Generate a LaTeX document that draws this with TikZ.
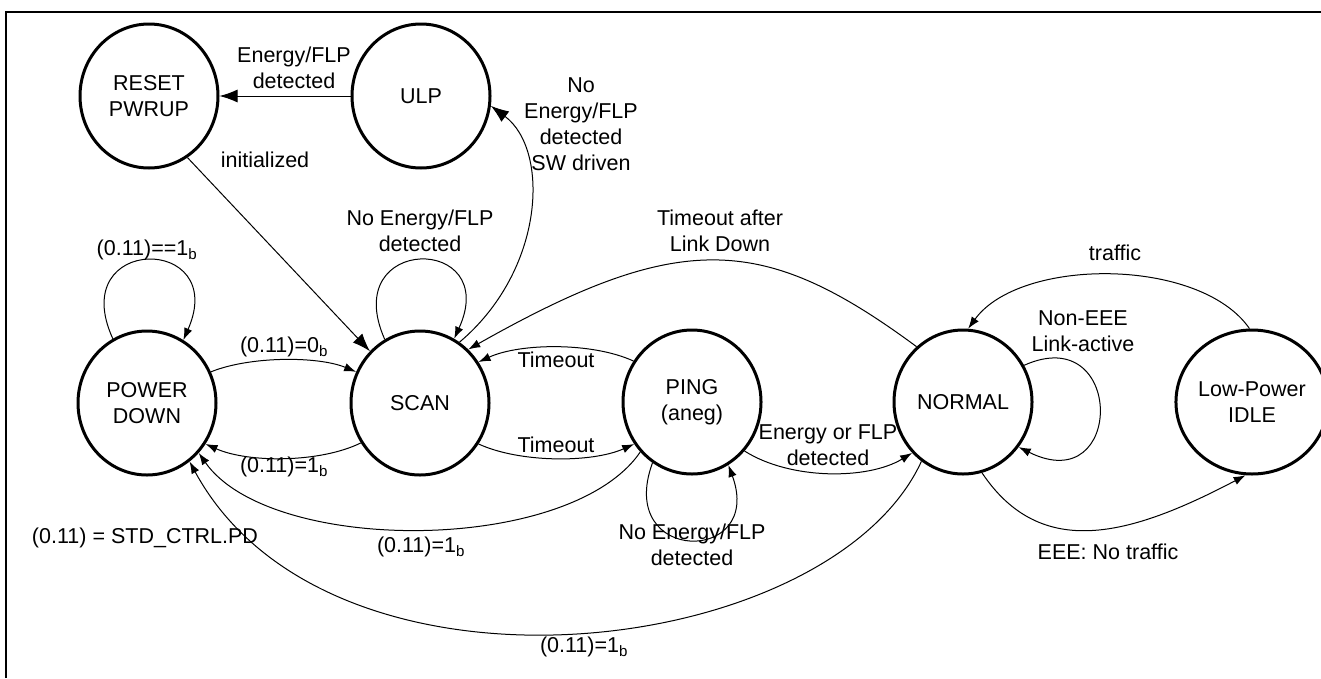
\documentclass[tikz,border=0pt]{standalone}
\usepackage{fontspec}
\setmainfont{Liberation Sans}
\usetikzlibrary{shapes.geometric,arrows.meta}
\newcommand{\diafont}{\fontsize{21.5}{26}\selectfont}
\newcommand{\bsub}{\textsubscript{b}}
\begin{document}
\begin{tikzpicture}[x=1pt,y=-1pt,
  state/.style={ellipse,draw,line width=3pt,minimum width=138pt,minimum height=144pt,inner sep=0pt,align=center,font=\diafont},
  lbl/.style={align=center,font=\diafont,inner sep=0pt},
  conn/.style={line width=1pt,-{Latex[length=12pt,width=8.5pt]}},
  bigconn/.style={line width=1pt,-{Latex[length=18pt,width=13pt]}},
  frame/.style={line width=1.2pt}]
\useasboundingbox (0,0) rectangle (1321,678);
% frame
\coordinate (fa) at (6,678);
\coordinate (fb) at (6,12);
\coordinate (fc) at (1321,12);
\draw[frame] (fa) -- (fb) -- (fc);
% states
\node[state] (RESET) at (149,96) {RESET\\PWRUP};
\node[state] (ULP) at (421,96) {ULP};
\node[state] (PD) at (147,403) {POWER\\DOWN};
\node[state] (SCAN) at (420,403) {SCAN};
\node[state] (PING) at (692,402) {PING\\(aneg)};
\node[state] (NORMAL) at (963,402) {NORMAL};
\node[state] (LP) at (1252,402) {Low-Power\\IDLE};
% connectors
\draw[bigconn] (ULP) -- (RESET);
\draw[bigconn] (RESET.-58) -- (SCAN.134);
\draw[bigconn] (SCAN.57) .. controls (545,270) and (550,150) .. (ULP.-8);
\draw[conn] (PD.118) .. controls (65,234) and (230,234) .. (PD.60);
\draw[conn] (SCAN.119) .. controls (338,234) and (502,234) .. (SCAN.62);
\draw[conn] (PD.26) .. controls (250,356) and (318,356) .. (SCAN.154);
\draw[conn] (SCAN.214) .. controls (320,463) and (248,463) .. (PD.-35);
\draw[conn] (PING.224) .. controls (570,555) and (270,555) .. (PD.-44);
\draw[conn] (NORMAL.235) .. controls (830,660) and (330,720) .. (PD.-54);
\draw[conn] (SCAN.-35) .. controls (520,463) and (592,463) .. (PING.216);
\draw[conn] (PING.145) .. controls (592,342) and (520,343) .. (SCAN.35);
\draw[conn] (PING.237) .. controls (615,565) and (765,565) .. (PING.-60);
\draw[conn] (PING.-43) .. controls (790,480) and (868,480) .. (NORMAL.225);
\draw[conn] (NORMAL.130) .. controls (764,234) and (681,229) .. (SCAN.48);
\draw[conn] (LP.92) .. controls (1200,257) and (1020,257) .. (NORMAL.86);
\draw[conn] (NORMAL.31) .. controls (1125,320) and (1125,500) .. (NORMAL.-39);
\draw[conn] (NORMAL.-75) .. controls (1041,561) and (1130,536) .. (LP.-95);
% labels
\node[lbl] (l1) at (294,68) {Energy/FLP\\detected};
\node[lbl] (l2) at (265,160) {initialized};
\node[lbl] (l3) at (581,124) {No\\Energy/FLP\\detected\\SW driven};
\node[lbl] (l4) at (147,250) {(0.11)==1\bsub};
\node[lbl] (l5) at (420,231) {No Energy/FLP\\detected};
\node[lbl] (l6) at (284,347) {(0.11)=0\bsub};
\node[lbl] (l7) at (284,467) {(0.11)=1\bsub};
\node[lbl] (l8) at (556,360) {Timeout};
\node[lbl] (l9) at (556,445) {Timeout};
\node[lbl] (l10) at (421,547) {(0.11)=1\bsub};
\node[lbl] (l11) at (145,538) {(0.11) = STD\_CTRL.PD};
\node[lbl] (l12) at (692,545) {No Energy/FLP\\detected};
\node[lbl] (l13) at (584,647) {(0.11)=1\bsub};
\node[lbl] (l14) at (828,445) {Energy or FLP\\detected};
\node[lbl] (l15) at (720,231) {Timeout after\\Link Down};
\node[lbl] (l16) at (1115,253) {traffic};
\node[lbl] (l17) at (1083,331) {Non-EEE\\Link-active};
\node[lbl] (l18) at (1108,552) {EEE: No traffic};
\end{tikzpicture}
\end{document}
